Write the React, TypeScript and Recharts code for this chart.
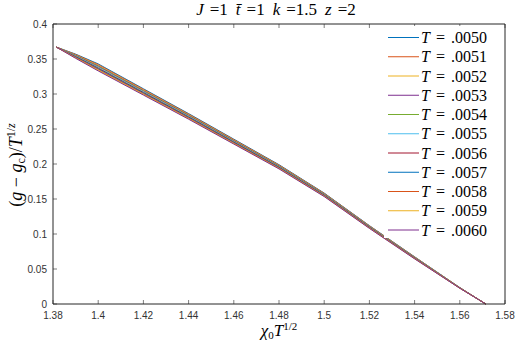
import React from 'react';
import { LineChart, Line, XAxis, YAxis, Legend } from 'recharts';

const xValues = [1.3815, 1.39, 1.4, 1.42, 1.44, 1.46, 1.48, 1.5, 1.52, 1.54, 1.56, 1.5715];

const t0050 = [0.367, 0.357, 0.343, 0.3075, 0.272, 0.2355, 0.199, 0.1585, 0.112, 0.0675, 0.0235, 0];
const t0051 = [0.367, 0.3564, 0.342, 0.3066, 0.2712, 0.2348, 0.1984, 0.158, 0.1116, 0.0672, 0.0234, 0];
const t0052 = [0.367, 0.3558, 0.341, 0.3057, 0.2704, 0.2341, 0.1978, 0.1575, 0.1112, 0.0669, 0.0233, 0];
const t0053 = [0.367, 0.3552, 0.34, 0.3048, 0.2696, 0.2334, 0.1972, 0.157, 0.1108, 0.0666, 0.0232, 0];
const t0054 = [0.367, 0.3546, 0.339, 0.3039, 0.2688, 0.2327, 0.1966, 0.1565, 0.1104, 0.0663, 0.0231, 0];
const t0055 = [0.367, 0.354, 0.338, 0.303, 0.268, 0.232, 0.196, 0.156, 0.11, 0.066, 0.023, 0];
const t0056 = [0.367, 0.3534, 0.337, 0.3021, 0.2672, 0.2313, 0.1954, 0.1555, 0.1096, 0.0657, 0.0229, 0];
const t0057 = [0.367, 0.3528, 0.336, 0.3012, 0.2664, 0.2306, 0.1948, 0.155, 0.1092, 0.0654, 0.0228, 0];
const t0058 = [0.367, 0.3522, 0.335, 0.3003, 0.2656, 0.2299, 0.1942, 0.1545, 0.1088, 0.0651, 0.0227, 0];
const t0059 = [0.367, 0.3516, 0.334, 0.2994, 0.2648, 0.2292, 0.1936, 0.154, 0.1084, 0.0648, 0.0226, 0];
const t0060 = [0.367, 0.351, 0.333, 0.2985, 0.264, 0.2285, 0.193, 0.1535, 0.108, 0.0645, 0.0225, 0];

const temps = ['.0050', '.0051', '.0052', '.0053', '.0054', '.0055', '.0056', '.0057', '.0058', '.0059', '.0060'];
const seriesValues = [t0050, t0051, t0052, t0053, t0054, t0055, t0056, t0057, t0058, t0059, t0060];
const colors = ['#0072BD', '#D95319', '#EDB120', '#7E2F8E', '#77AC30', '#4DBEEE', '#A2142F', '#0072BD', '#D95319', '#EDB120', '#7E2F8E'];

const xTicks = [1.38, 1.4, 1.42, 1.44, 1.46, 1.48, 1.5, 1.52, 1.54, 1.56, 1.58];
const yTicks = [0, 0.05, 0.1, 0.15, 0.2, 0.25, 0.3, 0.35, 0.4];

const data = xValues.map((x, j) => {
  const row: Record<string, number> = { x };
  temps.forEach((t, i) => {
    row['T' + t] = seriesValues[i][j];
  });
  return row;
});

const AXIS = '#262626';
const TICK_FONT = 'Liberation Sans, Arial, sans-serif';
const SERIF = 'Liberation Serif, Times New Roman, serif';

const fmt = (v: number) => String(Number(v.toFixed(2)));

const BottomTick = ({ x, y, payload }: any) => (
  <g>
    <line x1={x} x2={x} y1={y} y2={y - 4} stroke={AXIS} strokeWidth={0.6} />
    <text x={x} y={y + 15} textAnchor="middle" fontSize={10} fontFamily={TICK_FONT} fill="#333">
      {fmt(payload.value)}
    </text>
  </g>
);

const TopTick = ({ x, y }: any) => (
  <line x1={x} x2={x} y1={y} y2={y + 4} stroke={AXIS} strokeWidth={0.6} />
);

const LeftTick = ({ x, y, payload }: any) => (
  <g>
    <line x1={x} x2={x + 4} y1={y} y2={y} stroke={AXIS} strokeWidth={0.6} />
    <text x={x - 6} y={y + 3.5} textAnchor="end" fontSize={10} fontFamily={TICK_FONT} fill="#333">
      {fmt(payload.value)}
    </text>
  </g>
);

const RightTick = ({ x, y }: any) => (
  <line x1={x} x2={x - 4} y1={y} y2={y} stroke={AXIS} strokeWidth={0.6} />
);

const LegendBox = () => (
  <svg width={118} height={212} style={{ display: 'block', background: '#fff' }}>
    {temps.map((t, i) => {
      const cy = 11.5 + i * 19.25;
      return (
        <g key={t}>
          <line x1={4} x2={35} y1={cy} y2={cy} stroke={colors[i]} strokeWidth={1} />
          <text x={37} y={cy + 5.5} fontSize={16} fontFamily={SERIF} fill="#000">
            <tspan fontStyle="italic">T</tspan>
            <tspan dx={6}>=</tspan>
            <tspan dx={6}>{t}</tspan>
          </text>
        </g>
      );
    })}
  </svg>
);

export default function App() {
  return (
    <div style={{ position: 'absolute', left: 0, top: 0, width: 519, height: 341, background: '#fff' }}>
      <LineChart width={519} height={341} data={data} margin={{ top: 23, right: 13, bottom: 36, left: 52 }}>
        <XAxis
          xAxisId="bottom"
          dataKey="x"
          type="number"
          domain={[1.38, 1.58]}
          ticks={xTicks}
          interval={0}
          height={1}
          tickSize={0}
          tickMargin={0}
          tick={<BottomTick />}
          stroke={AXIS}
        />
        <XAxis
          xAxisId="top"
          orientation="top"
          dataKey="x"
          type="number"
          domain={[1.38, 1.58]}
          ticks={xTicks}
          interval={0}
          height={1}
          tickSize={0}
          tickMargin={0}
          tick={<TopTick />}
          stroke={AXIS}
        />
        <YAxis
          yAxisId="left"
          type="number"
          domain={[0, 0.4]}
          ticks={yTicks}
          interval={0}
          width={1}
          tickSize={0}
          tickMargin={0}
          tick={<LeftTick />}
          stroke={AXIS}
        />
        <YAxis
          yAxisId="right"
          orientation="right"
          type="number"
          domain={[0, 0.4]}
          ticks={yTicks}
          interval={0}
          width={1}
          tickSize={0}
          tickMargin={0}
          tick={<RightTick />}
          stroke={AXIS}
        />
        {temps.map((t, i) => (
          <Line
            key={t}
            xAxisId="bottom"
            yAxisId="left"
            type="linear"
            dataKey={'T' + t}
            stroke={colors[i]}
            strokeWidth={1}
            dot={false}
            isAnimationActive={false}
          />
        ))}
        <Legend
          layout="vertical"
          align="center"
          verticalAlign="middle"
          content={<LegendBox />}
          wrapperStyle={{ left: 384, top: 26, width: 118, height: 212 }}
        />
      </LineChart>
      <svg
        width={519}
        height={341}
        style={{ position: 'absolute', left: 0, top: 0, pointerEvents: 'none' }}
      >
        <text x={276} y={15} textAnchor="middle" fontSize={17} fontFamily={SERIF} fill="#000">
          <tspan fontStyle="italic">J</tspan>
          <tspan dx={6}>=1</tspan>
          <tspan dx={8} fontStyle="italic">t̄</tspan>
          <tspan dx={6}>=1</tspan>
          <tspan dx={8} fontStyle="italic">k</tspan>
          <tspan dx={6}>=1.5</tspan>
          <tspan dx={8} fontStyle="italic">z</tspan>
          <tspan dx={6}>=2</tspan>
        </text>
        <text x={279} y={336} textAnchor="middle" fontSize={17} fontFamily={SERIF} fill="#000">
          <tspan fontStyle="italic">χ</tspan>
          <tspan fontSize={11} dy={3}>0</tspan>
          <tspan fontStyle="italic" dy={-3}>T</tspan>
          <tspan fontSize={11} dy={-6}>1/2</tspan>
        </text>
        <text
          transform="rotate(-90)"
          x={-165}
          y={22}
          textAnchor="middle"
          fontSize={18}
          fontFamily={SERIF}
          fill="#000"
        >
          <tspan>(</tspan>
          <tspan fontStyle="italic">g</tspan>
          <tspan> − </tspan>
          <tspan fontStyle="italic">g</tspan>
          <tspan fontSize={12} dy={3}>c</tspan>
          <tspan dy={-3}>)/</tspan>
          <tspan fontStyle="italic">T</tspan>
          <tspan fontSize={12} dy={-7}>1/</tspan>
          <tspan fontSize={12} fontStyle="italic">z</tspan>
        </text>
      </svg>
    </div>
  );
}
